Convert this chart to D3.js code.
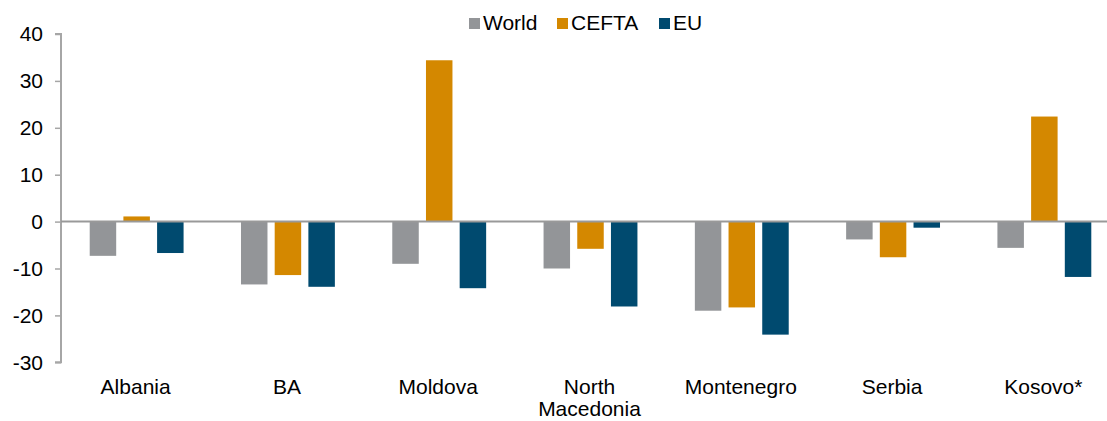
<!DOCTYPE html>
<html>
<head>
<meta charset="utf-8">
<script src="https://cdn.jsdelivr.net/npm/d3@7"></script>
<style>
  html, body { margin: 0; padding: 0; background: #fff; }
  svg { display: block; font-family: "Liberation Sans", Arial, sans-serif; }
</style>
</head>
<body>
<svg id="chart" width="1107" height="421"></svg>
<script>
const categories = ["Albania", "BA", "Moldova", "North Macedonia", "Montenegro", "Serbia", "Kosovo*"];
const seriesNames = ["World", "CEFTA", "EU"];
const world = [-7.3, -13.4, -9.0, -10.0, -19.0, -3.8, -5.6];
const cefta = [1.1, -11.4, 34.4, -5.8, -18.3, -7.6, 22.4];
const eu = [-6.7, -13.9, -14.2, -18.1, -24.1, -1.3, -11.8];
const yTicks = [-30, -20, -10, 0, 10, 20, 30, 40];
const colors = ["#939598", "#D48800", "#004A6F"];

const seriesValues = [world, cefta, eu];
const svg = d3.select("#chart");
const W = 1107, H = 421;
const mLeft = 61, mRight = 1120, mTop = 34, mBottom = 362.3;

const x = d3.scaleBand().domain(categories).range([mLeft, mRight]).paddingInner(0).paddingOuter(0);
const y = d3.scaleLinear().domain([-30, 40]).range([mBottom, mTop]);
const xs = d3.scaleBand().domain(seriesNames).range([0, x.bandwidth()]).paddingInner(0.214).paddingOuter(0.852);

// Bars
seriesNames.forEach((s, si) => {
  svg.append("g").selectAll("rect")
    .data(categories.map((c, i) => ({c, v: seriesValues[si][i]})))
    .join("rect")
    .attr("x", d => x(d.c) + xs(s))
    .attr("width", xs.bandwidth())
    .attr("y", d => y(Math.max(0, d.v)))
    .attr("height", d => Math.abs(y(d.v) - y(0)))
    .attr("fill", colors[si]);
});

// Y axis
const yAxis = d3.axisLeft(y).tickValues(yTicks).tickSize(6).tickPadding(12).tickFormat(d => String(d));
const gy = svg.append("g").attr("transform", `translate(${mLeft},0)`).call(yAxis);
gy.select(".domain").attr("stroke", "#a6a6a6").attr("stroke-width", 2).attr("d", `M-6,${mTop}H0V${mBottom}H-6`);
gy.selectAll(".tick line").attr("stroke", "#a6a6a6").attr("stroke-width", 1.5);
gy.selectAll(".tick text").attr("font-size", 21).attr("fill", "#000").attr("font-family", "Liberation Sans, Arial, sans-serif");

// Zero line
svg.append("line")
  .attr("x1", mLeft).attr("x2", W)
  .attr("y1", y(0)).attr("y2", y(0))
  .attr("stroke", "#999999").attr("stroke-width", 2);

// X category labels
const xl = svg.append("g").selectAll("text").data(categories).join("text")
  .attr("x", d => x(d) + x.bandwidth() / 2 - 1)
  .attr("y", 394)
  .attr("text-anchor", "middle")
  .attr("font-size", 21)
  .attr("fill", "#000");
xl.each(function(d) {
  const t = d3.select(this);
  const parts = d === "North Macedonia" ? ["North", "Macedonia"] : [d];
  parts.forEach((p, i) => {
    t.append("tspan").attr("x", x(d) + x.bandwidth() / 2 - 1).attr("dy", i === 0 ? 0 : 22).text(p);
  });
});

// Legend
const legendItems = [
  {name: "World", sx: 469, color: colors[0]},
  {name: "CEFTA", sx: 557, color: colors[1]},
  {name: "EU", sx: 659, color: colors[2]}
];
const lg = svg.append("g");
legendItems.forEach(it => {
  lg.append("rect").attr("x", it.sx).attr("y", 18).attr("width", 11).attr("height", 11).attr("fill", it.color);
  lg.append("text").attr("x", it.sx + 14).attr("y", 30).attr("font-size", 21).attr("fill", "#000").text(it.name);
});
</script>
</body>
</html>
